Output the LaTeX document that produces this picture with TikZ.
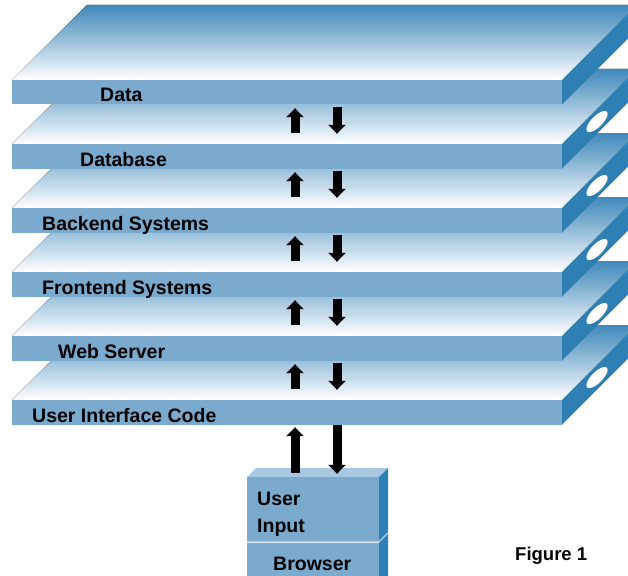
\documentclass[tikz,border=0pt]{standalone}
\usepackage{fontspec}
\setmainfont{Liberation Sans}
\usepackage{tikz}
\usetikzlibrary{arrows.meta}
\definecolor{LayerFront}{RGB}{122,170,206}
\definecolor{LayerSide}{RGB}{46,128,180}
\definecolor{LayerBack}{RGB}{62,136,186}
\definecolor{BoxTop}{RGB}{168,200,225}

\begin{document}
\begin{tikzpicture}[x=1pt,y=-1pt,
  lid/.style={top color=LayerBack,bottom color=white},
  side/.style={fill=LayerSide},
  face/.style={fill=LayerFront,minimum width=550pt,minimum height=24.5pt,inner sep=0pt},
  boxface/.style={fill=LayerFront,minimum width=132pt,inner sep=0pt},
  lbl/.style={font=\bfseries\fontsize{19.5}{20}\selectfont,anchor=base west,inner sep=0pt},
  hole/.style={fill=white},
  flow/.style={line width=9pt,-{Triangle[width=17pt,length=9pt]}},
]
\useasboundingbox (0,0) rectangle (628,575);
\clip (0,0) rectangle (628,575);
% user interface code
\fill[lid] (12,400) -- (562,400) -- (637,325) -- (87,325) -- cycle;
\fill[side] (562,400) -- (562,424.5) -- (637,349.5) -- (637,325) -- cycle;
\fill[hole,rotate around={45:(597,377.5)}] (597,377.5) ellipse (14pt and 5.5pt);
\node[face] (ui) at (287,412.25) {};
\node[lbl] (uiL) at (32,422) {User Interface Code};
% web server
\fill[lid] (12,336) -- (562,336) -- (637,261) -- (87,261) -- cycle;
\fill[side] (562,336) -- (562,360.5) -- (637,285.5) -- (637,261) -- cycle;
\fill[hole,rotate around={45:(597,313.5)}] (597,313.5) ellipse (14pt and 5.5pt);
\node[face] (web) at (287,348.25) {};
\node[lbl] (webL) at (58,358) {Web Server};
% frontend
\fill[lid] (12,272) -- (562,272) -- (637,197) -- (87,197) -- cycle;
\fill[side] (562,272) -- (562,296.5) -- (637,221.5) -- (637,197) -- cycle;
\fill[hole,rotate around={45:(597,249.5)}] (597,249.5) ellipse (14pt and 5.5pt);
\node[face] (front) at (287,284.25) {};
\node[lbl] (frontL) at (42,294) {Frontend Systems};
% backend
\fill[lid] (12,208) -- (562,208) -- (637,133) -- (87,133) -- cycle;
\fill[side] (562,208) -- (562,232.5) -- (637,157.5) -- (637,133) -- cycle;
\fill[hole,rotate around={45:(597,185.5)}] (597,185.5) ellipse (14pt and 5.5pt);
\node[face] (back) at (287,220.25) {};
\node[lbl] (backL) at (42,230) {Backend Systems};
% database
\fill[lid] (12,144) -- (562,144) -- (637,69) -- (87,69) -- cycle;
\fill[side] (562,144) -- (562,168.5) -- (637,93.5) -- (637,69) -- cycle;
\fill[hole,rotate around={45:(597,121.5)}] (597,121.5) ellipse (14pt and 5.5pt);
\node[face] (db) at (287,156.25) {};
\node[lbl] (dbL) at (80,166) {Database};
% data
\fill[lid] (12,80) -- (562,80) -- (637,5) -- (87,5) -- cycle;
\fill[side] (562,80) -- (562,104.5) -- (637,29.5) -- (637,5) -- cycle;
\node[face] (data) at (287,92.25) {};
\node[lbl] (dataL) at (100,102) {Data};
% browser box
\fill[BoxTop] (247,477) -- (379,477) -- (388,468) -- (256,468) -- cycle;
\fill[side] (379,477) -- (388,468) -- (388,580) -- (379,589) -- cycle;
\node[boxface,minimum height=64.5pt] (input) at (313,509.25) {};
\node[boxface,minimum height=40pt] (browser) at (313,563) {};
\draw[BoxTop,line width=1.5pt] (input.south west) -- (input.south east) -- ++(9,-9);
\node[lbl] (userL) at (257,505) {User};
\node[lbl] (inputL) at (257,532) {Input};
\node[lbl] (browserL) at (273,570) {Browser};
\node[font=\bfseries\fontsize{18.5}{19}\selectfont,anchor=base west,inner sep=0pt] (fig) at (515,560) {Figure 1};
\draw[flow] ([xshift=8pt,yshift=11pt]db.north) -- ([xshift=8pt,yshift=-3.5pt]data.south);
\draw[flow] ([xshift=50pt,yshift=-2.5pt]data.south) -- ([xshift=50pt,yshift=10pt]db.north);
\draw[flow] ([xshift=8pt,yshift=11pt]back.north) -- ([xshift=8pt,yshift=-3.5pt]db.south);
\draw[flow] ([xshift=50pt,yshift=-2.5pt]db.south) -- ([xshift=50pt,yshift=10pt]back.north);
\draw[flow] ([xshift=8pt,yshift=11pt]front.north) -- ([xshift=8pt,yshift=-3.5pt]back.south);
\draw[flow] ([xshift=50pt,yshift=-2.5pt]back.south) -- ([xshift=50pt,yshift=10pt]front.north);
\draw[flow] ([xshift=8pt,yshift=11pt]web.north) -- ([xshift=8pt,yshift=-3.5pt]front.south);
\draw[flow] ([xshift=50pt,yshift=-2.5pt]front.south) -- ([xshift=50pt,yshift=10pt]web.north);
\draw[flow] ([xshift=8pt,yshift=11pt]ui.north) -- ([xshift=8pt,yshift=-3.5pt]web.south);
\draw[flow] ([xshift=50pt,yshift=-2.5pt]web.south) -- ([xshift=50pt,yshift=10pt]ui.north);
\draw[flow] ([xshift=-18pt,yshift=4pt]input.north) -- ([xshift=8pt,yshift=-2.5pt]ui.south);
\draw[flow] ([xshift=50pt,yshift=-0.5pt]ui.south) -- ([xshift=24pt,yshift=3pt]input.north);
\end{tikzpicture}
\end{document}
